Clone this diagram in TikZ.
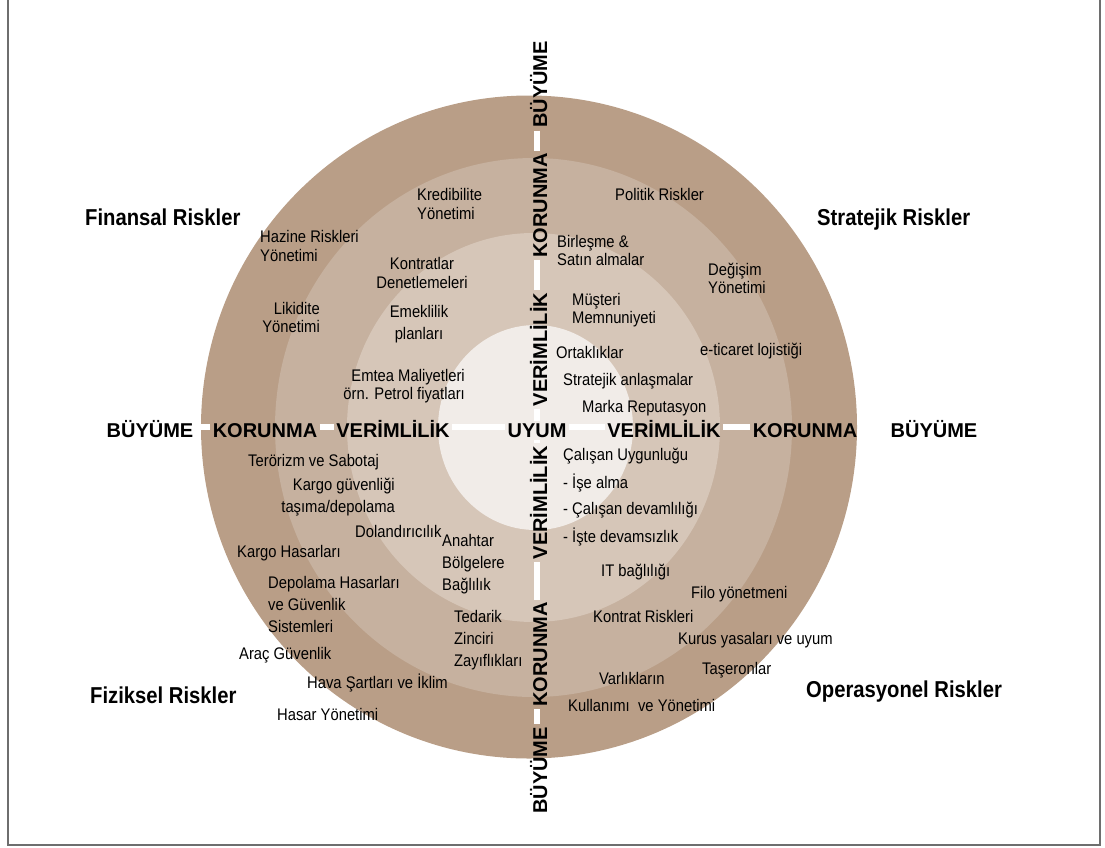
\documentclass[tikz,border=0pt]{standalone}
\usepackage{fontspec}
\setmainfont{Liberation Sans}[FakeStretch=0.88]
\newfontfamily\axisfont{Liberation Sans}
\usepackage{xcolor}
\usepackage{tikz}
\usetikzlibrary{calc}
\definecolor{ringouter}{RGB}{185,158,135}
\definecolor{ringsecond}{RGB}{198,177,159}
\definecolor{ringthird}{RGB}{214,198,184}
\definecolor{ringinner}{RGB}{241,236,232}
\definecolor{framegray}{RGB}{110,110,110}
\tikzset{
    riskitem/.style={font=\fontsize{16.8}{18.5}\selectfont, inner sep=0pt, align=left, anchor=west},
    loose/.style={font=\fontsize{16.8}{22}\selectfont},
    risktitle/.style={font=\fontsize{23}{26}\selectfont\bfseries, inner sep=0pt, anchor=west},
    axislabel/.style={font=\axisfont\fontsize{20}{22}\selectfont\bfseries, inner sep=2.5pt, anchor=base},
    axisline/.style={white, line width=6pt},
}

\begin{document}
\begin{tikzpicture}[x=1pt, y=-1pt]
    \useasboundingbox (0,0) rectangle (1105,847);
    \draw[framegray, line width=1.5pt] (8,-5) -- (8,845) -- (1100,845) -- (1100,-5);
    % rings
    \fill[ringouter] (529,427) ellipse [x radius=328pt, y radius=331.5pt];
    \fill[ringsecond] (533.5,427.5) ellipse [x radius=258.5pt, y radius=269.5pt];
    \fill[ringthird] (533.5,427.5) ellipse [x radius=186.5pt, y radius=194.5pt];
    \fill[ringinner] (535.5,427.5) ellipse [x radius=97.5pt, y radius=102.5pt];
    \coordinate (axisW) at (201,427);
    \coordinate (axisE) at (857,427);
    \coordinate (axisN) at (537,95);
    % axis labels
    \node[axislabel] (buyW) at (150,437.5) {BÜYÜME};
    \node[axislabel] (korW) at (265,437.5) {KORUNMA};
    \node[axislabel] (verW) at (393,437.5) {VERİMLİLİK};
    \node[axislabel] (uyum) at (537,437.5) {UYUM};
    \node[axislabel] (verE) at (664,437.5) {VERİMLİLİK};
    \node[axislabel] (korE) at (805,437.5) {KORUNMA};
    \node[axislabel] (buyE) at (934,437.5) {BÜYÜME};
    \node[axislabel, rotate=90] (buyN) at (547,84.5) {BÜYÜME};
    \node[axislabel, rotate=90] (korN) at (547,205.5) {KORUNMA};
    \node[axislabel, rotate=90] (verN) at (547,349.5) {VERİMLİLİK};
    \node[axislabel, rotate=90] (verS) at (547,502.5) {VERİMLİLİK};
    \node[axislabel, rotate=90] (korS) at (547,654.5) {KORUNMA};
    \node[axislabel, rotate=90] (buyS) at (547,770.5) {BÜYÜME};
    \foreach \a/\b in {axisW/korW.west, korW.east/verW.west, verW.east/uyum.west,
                       uyum.east/verE.west, verE.east/korE.west}
        \draw[axisline] (\a |- axisW) -- (\b |- axisW);
    \foreach \a/\b in {buyN.west/korN.east, korN.west/verN.east, verN.west/uyum.north,
                       uyum.south/verS.east, verS.west/korS.east, korS.west/buyS.east}
        \draw[axisline] (\a -| axisN) -- (\b -| axisN);
    % quadrant titles
    \node[risktitle] (finansal) at (85,217) {Finansal Riskler};
    \node[risktitle] (stratejik) at (817,220) {Stratejik Riskler};
    \node[risktitle] (fiziksel) at (90,695) {Fiziksel Riskler};
    \node[risktitle] (operasyonel) at (806,692) {Operasyonel Riskler};
    % financial
    \node[riskitem] (kredibilite) at (417,204) {Kredibilite\\Yönetimi};
    \node[riskitem] (hazine) at (260,246) {Hazine Riskleri\\Yönetimi};
    \node[riskitem, align=center, anchor=center] (kontratlar) at (422,273) {Kontratlar\\Denetlemeleri};
    \node[riskitem, align=right, anchor=east] (likidite) at (320,317.5) {Likidite\\Yönetimi};
    \node[riskitem, loose, align=center, anchor=center] (emeklilik) at (419,324.5) {Emeklilik\\planları};
    \node[riskitem, align=right, anchor=east] (emtea) at (465,386) {Emtea Maliyetleri\\örn. Petrol fiyatları};
    % strategic
    \node[riskitem] (politik) at (615,194) {Politik Riskler};
    \node[riskitem] (birlesme) at (557,250.5) {Birleşme \&\\Satın almalar};
    \node[riskitem] (degisim) at (708,278.5) {Değişim\\Yönetimi};
    \node[riskitem] (musteri) at (572,310) {Müşteri\\Memnuniyeti};
    \node[riskitem] (ortaklik) at (556,352) {Ortaklıklar};
    \node[riskitem] (eticaret) at (700,351) {e-ticaret lojistiği};
    \node[riskitem] (anlasma) at (563,381) {Stratejik anlaşmalar};
    \node[riskitem] (marka) at (582,408) {Marka Reputasyon};
    % operational
    \node[riskitem] (calisan) at (563,456) {Çalışan Uygunluğu};
    \node[riskitem] (isealma) at (563,483) {- İşe alma};
    \node[riskitem] (devamlilik) at (563,510) {- Çalışan devamlılığı};
    \node[riskitem] (devamsizlik) at (563,537) {- İşte devamsızlık};
    \node[riskitem] (itbaglilik) at (601,572) {IT bağlılığı};
    \node[riskitem] (filo) at (691,594) {Filo yönetmeni};
    \node[riskitem] (kontrat) at (593,616) {Kontrat Riskleri};
    \node[riskitem] (kurus) at (678,640) {Kurus yasaları ve uyum};
    \node[riskitem] (taseron) at (702,670) {Taşeronlar};
    \node[riskitem] (varlik) at (599,678) {Varlıkların};
    \node[riskitem] (kullanim) at (568,705) {Kullanımı\ \ ve Yönetimi};
    % physical
    \node[riskitem] (terorizm) at (248,462) {Terörizm ve Sabotaj};
    \node[riskitem, loose, align=right, anchor=east] (kargoguv) at (395,497.5) {Kargo güvenliği\\taşıma/depolama};
    \node[riskitem] (dolandirici) at (355,531) {Dolandırıcılık};
    \node[riskitem, loose] (anahtar) at (442,564) {Anahtar\\Bölgelere\\Bağlılık};
    \node[riskitem] (kargohasar) at (237,553) {Kargo Hasarları};
    \node[riskitem, loose] (depolama) at (268,604.5) {Depolama Hasarları\\ve Güvenlik\\Sistemleri};
    \node[riskitem, loose] (tedarik) at (454,640) {Tedarik\\Zinciri\\Zayıflıkları};
    \node[riskitem] (arac) at (239,655) {Araç Güvenlik};
    \node[riskitem] (hava) at (307,683) {Hava Şartları ve İklim};
    \node[riskitem] (hasar) at (277,714) {Hasar Yönetimi};
\end{tikzpicture}
\end{document}
